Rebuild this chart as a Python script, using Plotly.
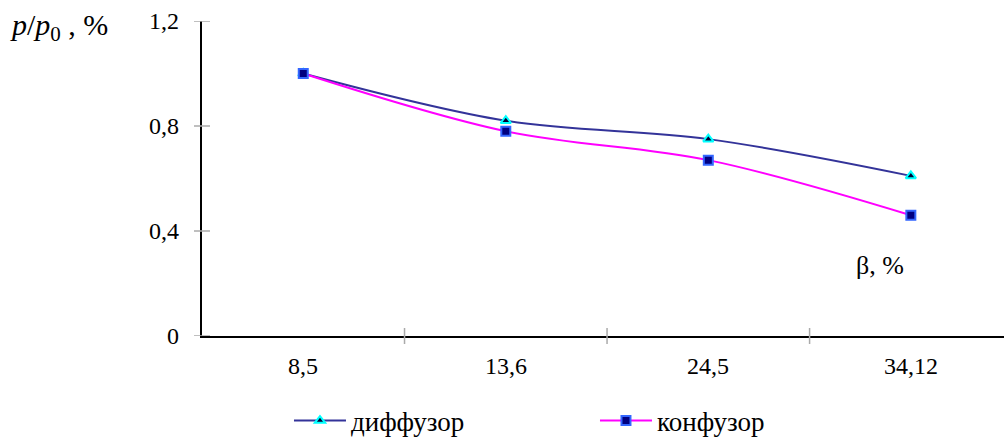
import plotly.graph_objects as go

categories = ["8,5", "13,6", "24,5", "34,12"]
diffuzor = [1.0, 0.82, 0.75, 0.61]
konfuzor = [1.0, 0.78, 0.67, 0.46]
y_ticks = [0, 0.4, 0.8, 1.2]
y_ticktext = ["0", "0,4", "0,8", "1,2"]

xpos = [i + 0.5 for i in range(len(categories))]
bounds = list(range(1, len(categories)))
font = "Times New Roman, Liberation Serif, DejaVu Serif, serif"

fig = go.Figure()
fig.add_trace(go.Scatter(
    x=xpos, y=diffuzor, name="диффузор", mode="lines+markers",
    line=dict(color="#333399", width=2, shape="spline", smoothing=1.0),
    marker=dict(symbol="triangle-up", size=9, color="#000033",
                line=dict(color="#00FFFF", width=2)),
))
fig.add_trace(go.Scatter(
    x=xpos, y=konfuzor, name="конфузор", mode="lines+markers",
    line=dict(color="#FF00FF", width=2, shape="spline", smoothing=1.0),
    marker=dict(symbol="square", size=9, color="#000080",
                line=dict(color="#3366FF", width=2)),
))

xr = [0, 3.96]
yr = [0, 1.2]
W, H = 1004, 448
ml, mr, mt, mb = 202, 0, 21, 112
pw, ph = W - ml - mr, H - mt - mb
tl = 8
gray = "#AAAAAA"

shapes = []
for b in bounds:
    shapes.append(dict(type="line", xref="x", yref="paper", x0=b, x1=b,
                       y0=-tl / ph, y1=tl / ph, line=dict(color=gray, width=1.5)))
for v in y_ticks:
    shapes.append(dict(type="line", xref="paper", yref="y", x0=-tl / pw, x1=tl / pw,
                       y0=v, y1=v, line=dict(color=gray, width=1.5)))

annotations = []
for xp, lab in zip(xpos, categories):
    annotations.append(dict(text=lab, xref="x", yref="paper", x=xp, y=-30 / ph,
                            xanchor="center", yanchor="middle", showarrow=False,
                            font=dict(family=font, size=24, color="black")))
for v, lab in zip(y_ticks, y_ticktext):
    annotations.append(dict(text=lab, xref="paper", yref="y", x=-21 / pw, y=v,
                            xanchor="right", yanchor="middle", showarrow=False,
                            font=dict(family=font, size=24, color="black")))
annotations += [
    dict(text="<i>p</i>/<i>p</i><sub>0</sub> , %", xref="paper", yref="paper",
         x=-0.242, y=0.98, xanchor="left", yanchor="middle", showarrow=False,
         font=dict(family=font, size=30, color="black")),
    dict(text="β, %", xref="x", yref="y", x=3.35, y=0.27, xanchor="center",
         yanchor="middle", showarrow=False, font=dict(family=font, size=26, color="black")),
]

fig.update_layout(
    width=W, height=H,
    margin=dict(l=ml, r=mr, t=mt, b=mb),
    paper_bgcolor="white", plot_bgcolor="white",
    font=dict(family=font, size=23, color="black"),
    showlegend=True,
    legend=dict(orientation="h", x=0.49, xanchor="center", y=-0.27, yanchor="middle",
                font=dict(family=font, size=27, color="black"), entrywidth=239,
                entrywidthmode="pixels", itemwidth=52, traceorder="normal"),
    xaxis=dict(range=xr, showticklabels=False, ticks="",
               showgrid=False, zeroline=False, showline=True, linecolor="black", linewidth=2),
    yaxis=dict(range=yr, showticklabels=False, ticks="",
               showgrid=False, zeroline=False, showline=True, linecolor="black", linewidth=2),
    shapes=shapes,
    annotations=annotations,
)

fig.write_html("out.html")
